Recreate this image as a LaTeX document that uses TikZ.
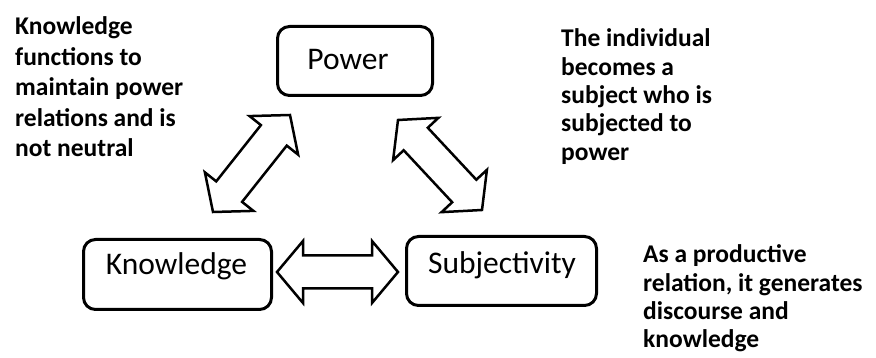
\documentclass[tikz,border=0pt]{standalone}
\usepackage{fontspec}
\setmainfont{Carlito}
\usetikzlibrary{calc}
\newcommand\blockarrow[2]{%
  \draw[barrow] (#1)
    -- ($(#1)!\ahl!(#2)!\ahw!90:(#2)$)
    -- ($(#1)!\ahl!(#2)!\asw!90:(#2)$)
    -- ($(#2)!\ahl!(#1)!\asw!-90:(#1)$)
    -- ($(#2)!\ahl!(#1)!\ahw!-90:(#1)$)
    -- (#2)
    -- ($(#2)!\ahl!(#1)!\ahw!90:(#1)$)
    -- ($(#2)!\ahl!(#1)!\asw!90:(#1)$)
    -- ($(#1)!\ahl!(#2)!\asw!-90:(#2)$)
    -- ($(#1)!\ahl!(#2)!\ahw!-90:(#2)$)
    -- cycle;}
\def\ahl{26pt}\def\ahw{31pt}\def\asw{16.5pt}
\begin{document}
\begin{tikzpicture}[x=1pt,y=1pt,
  box/.style={draw, line width=3pt, rounded corners=12pt, inner sep=0pt},
  boxtext/.style={anchor=base, inner sep=0pt, font=\fontsize{31.5}{36}\selectfont},
  note/.style={anchor=base west, inner sep=0pt, font=\fontsize{25.5}{28.3}\selectfont\bfseries},
  barrow/.style={draw, line width=2.5pt, line join=miter, fill=white}]
\useasboundingbox (0,0) rectangle (876,358);
% boxes
\node[box, minimum width=155pt, minimum height=69pt] (pbox) at (355,297) {};
\node[box, minimum width=188pt, minimum height=70pt] (kbox) at (177.5,83.5) {};
\node[box, minimum width=190pt, minimum height=69pt] (sbox) at (501.5,87) {};
\node[boxtext] (ptext) at (348,288) {Power};
\node[boxtext] (ktext) at (176.5,83) {Knowledge};
\node[boxtext] (stext) at (502,84) {Subjectivity};
% arrow tips
\coordinate (h1) at (277,86);
\coordinate (h2) at (398,86);
\coordinate (l1) at (213,146);
\coordinate (l2) at (290,243);
\coordinate (r1) at (398,238);
\coordinate (r2) at (482,148);
\blockarrow{h1}{h2}
\blockarrow{l1}{l2}
\blockarrow{r1}{r2}
% notes
\node[note, font=\fontsize{25.5}{30.5}\selectfont\bfseries] (n1) at (15,323)
  {\begin{tabular}[t]{@{}l@{}}Knowledge\\functions to\\maintain power\\relations and is\\not neutral\end{tabular}};
\node[note] (n2) at (561,311)
  {\begin{tabular}[t]{@{}l@{}}The individual\\becomes a\\subject who is\\subjected to\\power\end{tabular}};
\node[note] (n3) at (643,95)
  {\begin{tabular}[t]{@{}l@{}}As a productive\\relation, it generates\\discourse and\\knowledge\end{tabular}};
\end{tikzpicture}
\end{document}
